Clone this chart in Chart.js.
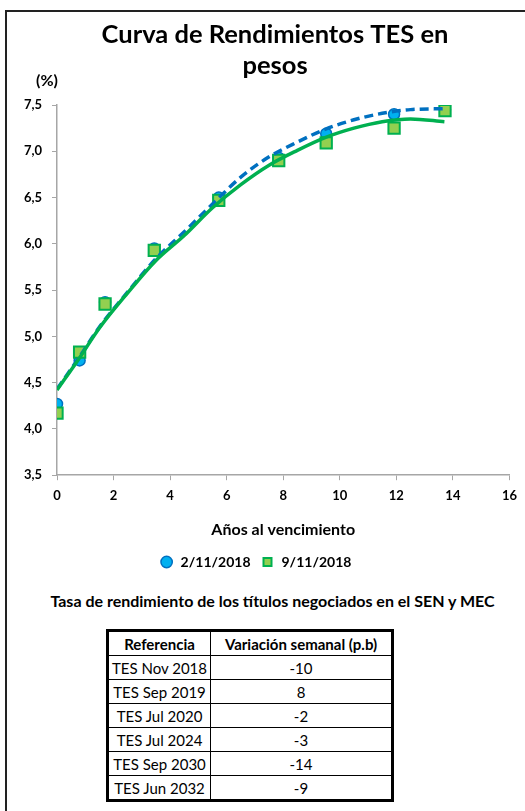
<!DOCTYPE html>
<html>
<head>
<meta charset="utf-8">
<script src="https://cdn.jsdelivr.net/npm/chart.js@4.4.0/dist/chart.umd.min.js"></script>
<style>
    body { margin: 0; background: #fff; font-family: Lato, "Open Sans", sans-serif; }
    #marco { position: absolute; left: 5px; top: 10px; width: 530px; height: 810px;
             border-left: 2px solid #222; border-top: 2px solid #222; }
    #lienzo { position: absolute; left: 0; top: 0; width: 525px; height: 585px; }
    #subtitulo { position: absolute; left: 0; top: 591px; width: 545px; text-align: center;
                 font-weight: bold; font-size: 16px; color: #000; }
    #tabla { position: absolute; left: 106px; top: 629px; border-collapse: collapse;
             border: 3px solid #000; font-size: 15px; color: #000; }
    #tabla td, #tabla th { border: 1px solid #000; text-align: center; padding: 0; height: 23px; }
    #tabla th { font-weight: bold; }
</style>
</head>
<body>
<div id="marco"></div>
<canvas id="lienzo" width="525" height="585"></canvas>
<div id="subtitulo">Tasa de rendimiento de los títulos negociados en el SEN y MEC</div>
<table id="tabla">
    <thead><tr><th style="width:101px">Referencia</th><th style="width:180px">Variación semanal (p.b)</th></tr></thead>
    <tbody></tbody>
</table>
<script>
// Datos
const plazos = [0.0, 0.8, 1.7, 3.44, 5.72, 7.84, 9.52, 11.92, 13.72];
const tasas0211 = [4.27, 4.74, 5.37, 5.95, 6.50, 6.93, 7.19, 7.40, 7.45];
const tasas0911 = [4.17, 4.83, 5.35, 5.93, 6.47, 6.90, 7.09, 7.25, 7.44];

// Líneas de tendencia (leídas punto a punto)
const plazosTendencia = [0, 0.8, 1.5, 2.5, 3.5, 4.5, 5.5, 6.5, 7.5, 8.5, 9.5, 10.5, 11.5, 12.5, 13.7];
const tendencia0211 = [4.43, 4.78, 5.10, 5.48, 5.84, 6.13, 6.43, 6.72, 6.94, 7.10, 7.24, 7.34, 7.41, 7.45, 7.46];
const tendencia0911 = [4.42, 4.77, 5.09, 5.47, 5.82, 6.09, 6.39, 6.64, 6.85, 7.01, 7.15, 7.25, 7.32, 7.35, 7.32];

const etiquetasSerie = ['2/11/2018', '9/11/2018'];
const titulo = ['Curva de Rendimientos TES en', 'pesos'];

// Tabla de variaciones
const referencias = ['TES Nov 2018', 'TES Sep 2019', 'TES Jul 2020', 'TES Jul 2024', 'TES Sep 2030', 'TES Jun 2032'];
const variaciones = [-10, 8, -2, -3, -14, -9];

function puntos(xs, ys) {
    return xs.map((x, i) => ({ x: x, y: ys[i] }));
}

// Llenar la tabla
const cuerpo = document.querySelector('#tabla tbody');
referencias.forEach((ref, i) => {
    var fila = document.createElement('tr');
    fila.innerHTML = `<td>${ref}</td><td>${variaciones[i]}</td>`;
    cuerpo.appendChild(fila);
});

// Título y texto "(%)" dibujados a mano
const textosExtra = {
    id: 'textosExtra',
    afterDraw(chart) {
        const ctx = chart.ctx;
        ctx.save();
        ctx.fillStyle = '#000';
        ctx.textAlign = 'center';
        ctx.textBaseline = 'alphabetic';
        ctx.font = 'bold 25.5px Lato';
        ctx.fillText(titulo[0], 275, 43);
        ctx.fillText(titulo[1], 275, 74);
        ctx.font = 'bold 16px Lato';
        ctx.textBaseline = 'middle';
        ctx.fillText('(%)', 47, 81);
        ctx.restore();
    }
};

const fuenteTicks = { family: 'Lato', size: 13, weight: 'bold' };

new Chart(document.getElementById('lienzo'), {
    type: 'scatter',
    data: {
        datasets: [
            {
                label: etiquetasSerie[0],
                data: puntos(plazos, tasas0211),
                pointStyle: 'circle',
                pointRadius: 5.5,
                backgroundColor: '#00B0F0',
                borderColor: '#0070C0',
                borderWidth: 1.5,
                order: 4
            },
            {
                label: etiquetasSerie[1],
                data: puntos(plazos, tasas0911),
                pointStyle: 'rect',
                pointRadius: 8,
                backgroundColor: '#92D050',
                borderColor: '#00B050',
                borderWidth: 2,
                order: 3
            },
            {
                label: 'tendencia 2/11',
                data: puntos(plazosTendencia, tendencia0211),
                showLine: true,
                pointRadius: 0,
                borderColor: '#0070C0',
                borderWidth: 3.5,
                borderDash: [9, 5],
                cubicInterpolationMode: 'monotone',
                order: 2
            },
            {
                label: 'tendencia 9/11',
                data: puntos(plazosTendencia, tendencia0911),
                showLine: true,
                pointRadius: 0,
                borderColor: '#00B050',
                borderWidth: 3.5,
                cubicInterpolationMode: 'monotone',
                order: 1
            }
        ]
    },
    options: {
        responsive: false,
        animation: false,
        layout: { padding: { left: 0, right: 14, top: 105, bottom: 6 } },
        plugins: {
            title: { display: false },
            legend: {
                position: 'bottom',
                labels: {
                    usePointStyle: true,
                    boxHeight: 8,
                    color: '#000',
                    font: { family: 'Lato', size: 14, weight: 'bold' },
                    padding: 10,
                    filter: item => etiquetasSerie.includes(item.text),
                    sort: (a, b) => a.datasetIndex - b.datasetIndex
                }
            },
            tooltip: { enabled: false }
        },
        scales: {
            x: {
                min: 0,
                max: 16,
                ticks: { stepSize: 2, color: '#000', font: fuenteTicks, padding: 8 },
                grid: { drawOnChartArea: false, drawTicks: true, tickLength: 5, color: '#A6A6A6' },
                border: { color: '#A6A6A6', width: 1.5 },
                title: {
                    display: true,
                    text: 'Años al vencimiento',
                    color: '#000',
                    font: { family: 'Lato', size: 16, weight: 'bold' },
                    padding: { top: 8, bottom: 6 }
                }
            },
            y: {
                min: 3.5,
                max: 7.5,
                afterFit: scale => { scale.width = 57; },
                ticks: {
                    stepSize: 0.5,
                    color: '#000',
                    font: fuenteTicks,
                    padding: 10,
                    callback: v => v.toFixed(1).replace('.', ',')
                },
                grid: { drawOnChartArea: false, drawTicks: true, tickLength: 5, color: '#A6A6A6' },
                border: { color: '#A6A6A6', width: 1.5 }
            }
        }
    },
    plugins: [textosExtra]
});
</script>
</body>
</html>
